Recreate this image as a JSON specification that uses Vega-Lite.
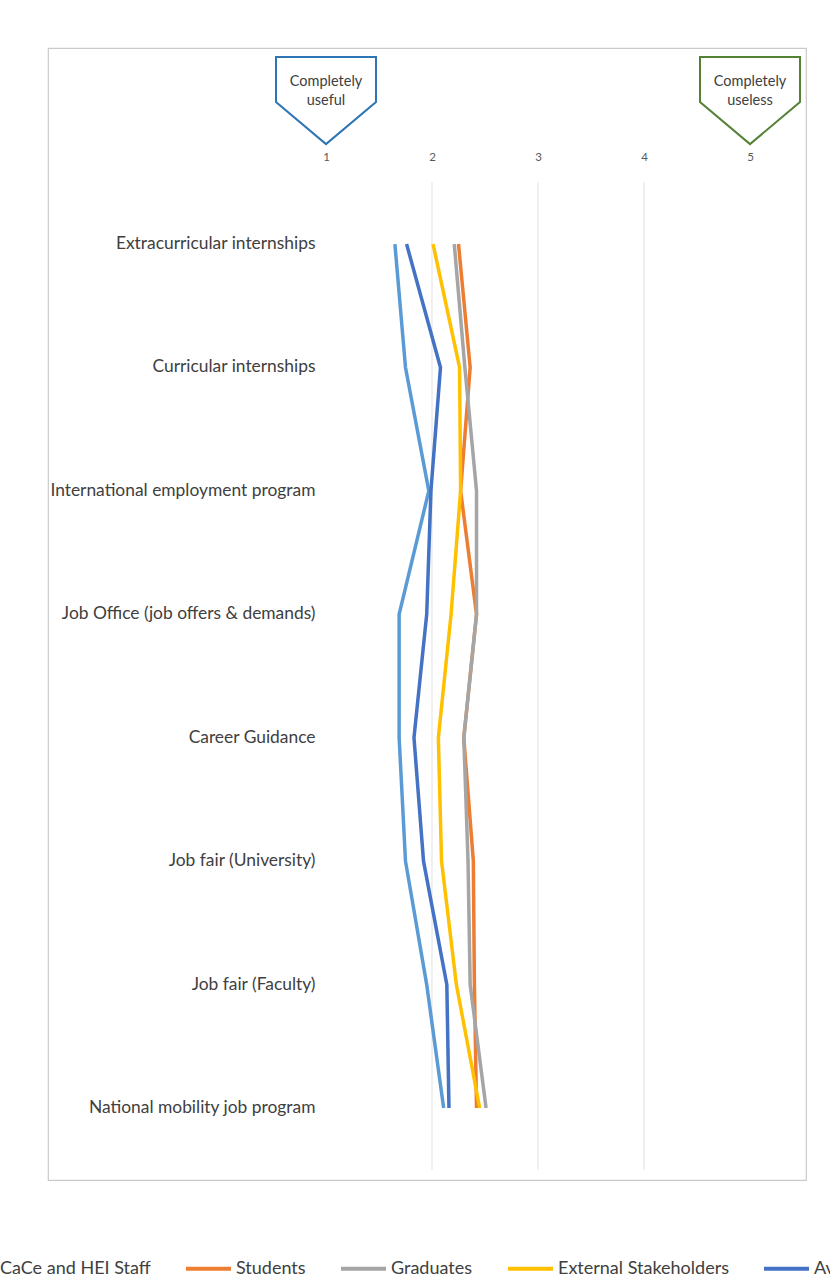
{
  "$schema": "https://vega.github.io/schema/vega-lite/v6.json",
  "width": 758,
  "height": 1132,
  "autosize": "none",
  "padding": {"left": 48, "top": 48, "right": 24, "bottom": 97},
  "background": "white",
  "config": {
    "view": {"stroke": "#c9c9c9", "strokeWidth": 1.2},
    "font": "Lato"
  },
  "datasets": {
    "scores": [
      {"category": "Extracurricular internships", "row": 1, "group": "CaCe and HEI Staff", "score": 1.65},
      {"category": "Curricular internships", "row": 2, "group": "CaCe and HEI Staff", "score": 1.75},
      {"category": "International employment program", "row": 3, "group": "CaCe and HEI Staff", "score": 1.97},
      {"category": "Job Office (job offers & demands)", "row": 4, "group": "CaCe and HEI Staff", "score": 1.69},
      {"category": "Career Guidance", "row": 5, "group": "CaCe and HEI Staff", "score": 1.69},
      {"category": "Job fair (University)", "row": 6, "group": "CaCe and HEI Staff", "score": 1.75},
      {"category": "Job fair (Faculty)", "row": 7, "group": "CaCe and HEI Staff", "score": 1.95},
      {"category": "National mobility job program", "row": 8, "group": "CaCe and HEI Staff", "score": 2.11},
      {"category": "Extracurricular internships", "row": 1, "group": "Students", "score": 2.25},
      {"category": "Curricular internships", "row": 2, "group": "Students", "score": 2.36},
      {"category": "International employment program", "row": 3, "group": "Students", "score": 2.27},
      {"category": "Job Office (job offers & demands)", "row": 4, "group": "Students", "score": 2.42},
      {"category": "Career Guidance", "row": 5, "group": "Students", "score": 2.3},
      {"category": "Job fair (University)", "row": 6, "group": "Students", "score": 2.39},
      {"category": "Job fair (Faculty)", "row": 7, "group": "Students", "score": 2.4},
      {"category": "National mobility job program", "row": 8, "group": "Students", "score": 2.42},
      {"category": "Extracurricular internships", "row": 1, "group": "Graduates", "score": 2.21},
      {"category": "Curricular internships", "row": 2, "group": "Graduates", "score": 2.31},
      {"category": "International employment program", "row": 3, "group": "Graduates", "score": 2.42},
      {"category": "Job Office (job offers & demands)", "row": 4, "group": "Graduates", "score": 2.42},
      {"category": "Career Guidance", "row": 5, "group": "Graduates", "score": 2.3},
      {"category": "Job fair (University)", "row": 6, "group": "Graduates", "score": 2.34},
      {"category": "Job fair (Faculty)", "row": 7, "group": "Graduates", "score": 2.36},
      {"category": "National mobility job program", "row": 8, "group": "Graduates", "score": 2.51},
      {"category": "Extracurricular internships", "row": 1, "group": "External Stakeholders", "score": 2.01},
      {"category": "Curricular internships", "row": 2, "group": "External Stakeholders", "score": 2.26},
      {"category": "International employment program", "row": 3, "group": "External Stakeholders", "score": 2.27},
      {"category": "Job Office (job offers & demands)", "row": 4, "group": "External Stakeholders", "score": 2.18},
      {"category": "Career Guidance", "row": 5, "group": "External Stakeholders", "score": 2.06},
      {"category": "Job fair (University)", "row": 6, "group": "External Stakeholders", "score": 2.09},
      {"category": "Job fair (Faculty)", "row": 7, "group": "External Stakeholders", "score": 2.23},
      {"category": "National mobility job program", "row": 8, "group": "External Stakeholders", "score": 2.45},
      {"category": "Extracurricular internships", "row": 1, "group": "Average", "score": 1.76},
      {"category": "Curricular internships", "row": 2, "group": "Average", "score": 2.08},
      {"category": "International employment program", "row": 3, "group": "Average", "score": 1.99},
      {"category": "Job Office (job offers & demands)", "row": 4, "group": "Average", "score": 1.95},
      {"category": "Career Guidance", "row": 5, "group": "Average", "score": 1.83},
      {"category": "Job fair (University)", "row": 6, "group": "Average", "score": 1.92},
      {"category": "Job fair (Faculty)", "row": 7, "group": "Average", "score": 2.14},
      {"category": "National mobility job program", "row": 8, "group": "Average", "score": 2.16}
    ],
    "grid": [
      {"g": 2, "ys": "header", "ye": "National mobility job program"},
      {"g": 3, "ys": "header", "ye": "National mobility job program"},
      {"g": 4, "ys": "header", "ye": "National mobility job program"}
    ],
    "callouts": [
      {"s": 1, "pos": "header", "label": "Completely\nuseful"},
      {"s": 5, "pos": "header", "label": "Completely\nuseless"}
    ]
  },
  "layer": [
    {
      "data": {"name": "grid"},
      "mark": {"type": "rule", "color": "#e0e0e0", "strokeWidth": 1},
      "encoding": {
        "x": {"field": "g", "type": "quantitative"},
        "y": {"field": "ys", "type": "nominal", "bandPosition": 1},
        "y2": {"field": "ye", "bandPosition": 1}
      }
    },
    {
      "data": {"name": "scores"},
      "mark": {"type": "line", "strokeWidth": 3.5, "strokeCap": "butt"},
      "encoding": {
        "x": {
          "field": "score", "type": "quantitative",
          "scale": {"domain": [-1.6226, 5.5283], "nice": false, "zero": false},
          "axis": {"orient": "top", "values": [1, 2, 3, 4, 5], "format": "d", "grid": false, "domain": false, "ticks": false, "offset": -116, "labelPadding": 2, "labelFontSize": 11.5, "labelColor": "#595959", "title": null, "labelFlush": false}
        },
        "y": {
          "field": "category", "type": "nominal",
          "scale": {
            "type": "band",
            "domain": ["header", "Extracurricular internships", "Curricular internships", "International employment program", "Job Office (job offers & demands)", "Career Guidance", "Job fair (University)", "Job fair (Faculty)", "National mobility job program"],
            "paddingInner": 0, "paddingOuter": 0.0856, "align": 0.515, "round": false
          },
          "axis": {"orient": "left", "offset": -269, "labelPadding": 2, "domain": false, "ticks": false, "grid": false, "labelFontSize": 17.4, "labelColor": "#404040", "title": null, "labelExpr": "datum.value == 'header' ? '' : datum.label", "labelLimit": 400}
        },
        "color": {
          "field": "group", "type": "nominal",
          "scale": {"domain": ["CaCe and HEI Staff", "Students", "Graduates", "External Stakeholders", "Average"], "range": ["#5B9BD5", "#ED7D31", "#A5A5A5", "#FFC000", "#4472C4"]},
          "legend": {"orient": "none", "legendX": -100, "legendY": 1196, "direction": "horizontal", "columns": 5, "symbolType": "stroke", "symbolSize": 2025, "symbolStrokeWidth": 4, "labelFontSize": 18, "labelColor": "#404040", "labelLimit": 0, "columnPadding": 27, "labelOffset": 3, "padding": 0, "title": null}
        },
        "order": {"field": "row", "type": "quantitative"}
      }
    },
    {
      "data": {"name": "callouts"},
      "mark": {"type": "point", "shape": "M-1,-0.87L1,-0.87L1,0.03L0,0.87L-1,0.03Z", "size": 10000, "filled": false, "fill": "white", "fillOpacity": 1, "strokeWidth": 2, "opacity": 1, "yOffset": -20},
      "encoding": {
        "x": {"field": "s", "type": "quantitative"},
        "y": {"field": "pos", "type": "nominal"},
        "stroke": {"condition": {"test": "datum.s == 1", "value": "#2E75B6"}, "value": "#548235"}
      }
    },
    {
      "data": {"name": "callouts"},
      "mark": {"type": "text", "lineBreak": "\n", "fontSize": 14.5, "color": "#404040", "baseline": "middle", "align": "center", "lineHeight": 19, "yOffset": -38.5},
      "encoding": {
        "x": {"field": "s", "type": "quantitative"},
        "y": {"field": "pos", "type": "nominal"},
        "text": {"field": "label"}
      }
    }
  ]
}
